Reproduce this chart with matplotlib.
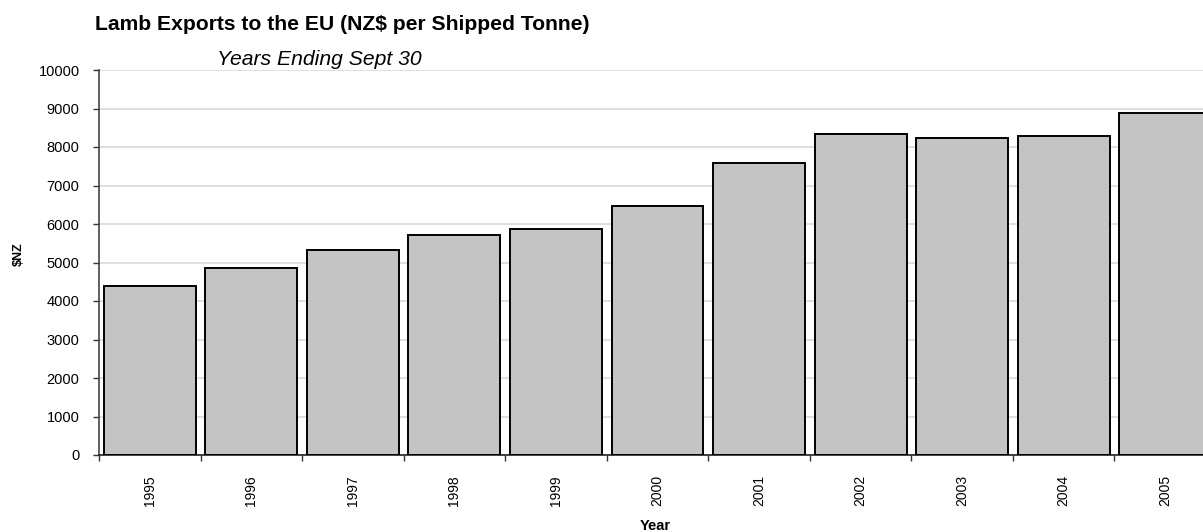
import matplotlib
matplotlib.use("Agg")
import matplotlib.pyplot as plt
import numpy as np

years = ["1995", "1996", "1997", "1998", "1999", "2000", "2001", "2002", "2003", "2004", "2005"]
values = [4395, 4860, 5330, 5710, 5865, 6465, 7580, 8330, 8225, 8280, 8875]
yticks = [0, 1000, 2000, 3000, 4000, 5000, 6000, 7000, 8000, 9000, 10000]

plt.rcParams['font.family'] = ['Liberation Sans', 'DejaVu Sans']

W, H = 1203, 532
fig = plt.figure(figsize=(W / 100, H / 100), dpi=100)
left, right = 99, 1216
bottom, top = 455, 70
ax = fig.add_axes([left / W, 1 - bottom / H, (right - left) / W, (bottom - top) / H])

x = np.arange(len(years))
ax.bar(x, values, width=0.905, color="#c4c4c4", edgecolor="black", linewidth=1.4, zorder=3)

ax.set_xlim(-0.5, len(years) - 0.5)
ax.set_ylim(0, 10000)
ax.set_yticks(yticks)
ax.set_yticklabels([str(v) for v in yticks], fontsize=10.5)
ax.yaxis.grid(True, color="#d9d9d9", linewidth=1.2, zorder=0)
ax.set_axisbelow(True)

ax.set_xticks(np.arange(len(years) + 1) - 0.5)
ax.set_xticklabels([])
ax.set_xticks(x, minor=True)
ax.set_xticklabels(years, minor=True, rotation=90, fontsize=10)
ax.tick_params(axis='x', which='major', length=4, width=1, color="#333333", direction='out')
ax.tick_params(axis='x', which='minor', length=0, pad=14.5)
ax.tick_params(axis='y', length=4, width=1, color="#333333", direction='out', pad=10)

for s in ["top", "right"]:
    ax.spines[s].set_visible(False)
ax.spines["left"].set_color("#444444")
ax.spines["left"].set_linewidth(1.2)
ax.spines["bottom"].set_color("#222222")
ax.spines["bottom"].set_linewidth(1.2)

fig.text(95 / W, 1 - 30 / H, "Lamb Exports to the EU (NZ$ per Shipped Tonne)",
         fontsize=15.2, fontweight="bold", ha="left", va="baseline")
fig.text(217 / W, 1 - 65 / H, "Years Ending Sept 30", fontsize=15.2, style="italic",
         ha="left", va="baseline")
fig.text(19 / W, 1 - 254 / H, "$NZ", fontsize=9, fontweight="bold", rotation=90,
         ha="center", va="center")
fig.text(655 / W, 1 - 530.5 / H, "Year", fontsize=10.5, fontweight="bold",
         ha="center", va="baseline")

fig.savefig("out.png", dpi=100)
